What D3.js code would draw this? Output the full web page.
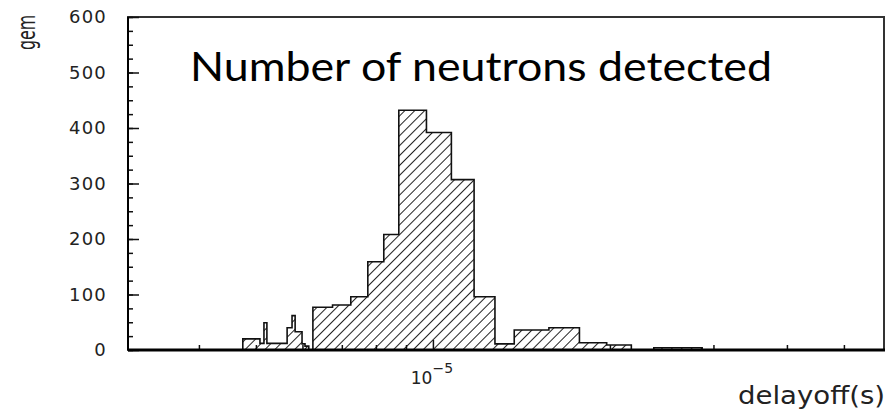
<!DOCTYPE html>
<html>
<head>
<meta charset="utf-8">
<script src="https://cdn.jsdelivr.net/npm/d3@7"></script>
<style>
  body { margin: 0; background: #fff; }
  svg { display: block; }
  .lbl { font-family: "DejaVu Sans", sans-serif; fill: #222; }
</style>
</head>
<body>
<svg id="chart"></svg>
<script>
const width = 888, height = 415

// histogram bin edges (microseconds) and counts
const binEdges = [4.75, 5.08, 5.16, 5.22, 5.65, 5.76, 5.83, 5.99, 6.06, 6.15, 6.25,
    6.75, 7.25, 7.75, 8.25, 8.75, 9.75, 10.75, 11.75, 12.75, 13.75,
    15.75, 17.75, 19.75, 21.75, 23.75, 28.7]
const binCounts = [20, 12, 49, 12, 40, 62, 33, 11, 7, 0,
    77, 81, 96, 159, 208, 432, 392, 307, 96, 11,
    36, 40, 13, 9, 0, 4]

// axes
const yMajorTicks = [0, 100, 200, 300, 400, 500, 600]
const yMinorTicks = d3.range(0, 601, 25)
const xMinorTicks = [4, 5, 6, 7, 8, 9, 20, 30, 40, 50]
const xMajorTicks = [10]
const yTitle = "gem"
const xTitle = "delayoff(s)"
const title = "Number of neutrons detected"

const frame = { left: 128, top: 17, right: 884, bottom: 350 }

const svg = d3.select("#chart")
    .attr("width", width)
    .attr("height", height)
    .attr("viewBox", `0 0 ${width} ${height}`)

const x = d3.scaleLog().domain([3.03, 58.5]).range([frame.left, frame.right])
const y = d3.scaleLinear().domain([0, 600]).range([frame.bottom, frame.top])

// hatch pattern "///", continuous across bins
svg.append("defs").append("pattern")
    .attr("id", "hatch")
    .attr("patternUnits", "userSpaceOnUse")
    .attr("width", 7).attr("height", 7)
    .attr("patternTransform", "rotate(-45)")
    .append("line")
    .attr("x1", -2).attr("x2", 9)
    .attr("y1", 0.5).attr("y2", 0.5)
    .attr("stroke", "#222")
    .attr("stroke-width", 1)

// step data: one point per edge, last repeats last count
const steps = binEdges.map((e, i) => ({ e, c: i < binCounts.length ? binCounts[i] : binCounts[binCounts.length - 1] }))
const outline = [{ e: binEdges[0], c: 0 }, ...steps, { e: binEdges[binEdges.length - 1], c: 0 }]

svg.append("path")
    .datum(steps)
    .attr("fill", "url(#hatch)")
    .attr("d", d3.area().curve(d3.curveStepAfter)
        .x(d => x(d.e)).y0(y(0)).y1(d => y(d.c)))

svg.append("path")
    .datum(outline)
    .attr("fill", "none")
    .attr("stroke", "#111")
    .attr("stroke-width", 1.6)
    .attr("d", d3.line().curve(d3.curveStepAfter)
        .x(d => x(d.e)).y(d => y(d.c)))

// frame
svg.append("rect")
    .attr("x", frame.left).attr("y", frame.top)
    .attr("width", frame.right - frame.left).attr("height", frame.bottom - frame.top)
    .attr("fill", "none")
    .attr("stroke", "#333")
    .attr("stroke-width", 2)

// y axis
const yMinor = svg.append("g")
    .attr("transform", `translate(${frame.left},0)`)
    .call(d3.axisLeft(y).tickValues(yMinorTicks).tickSize(-5).tickFormat(""))
const yMajor = svg.append("g")
    .attr("transform", `translate(${frame.left},0)`)
    .call(d3.axisLeft(y).tickValues(yMajorTicks).tickSize(-11).tickPadding(21).tickFormat(d3.format("d")))
yMajor.selectAll("text")
    .attr("class", "lbl")
    .style("font-size", "18px")
    .style("letter-spacing", "1.2px")
    .attr("font-family", null)

// x axis
const xMinor = svg.append("g")
    .attr("transform", `translate(0,${frame.bottom})`)
    .call(d3.axisBottom(x).tickValues(xMinorTicks).tickSize(-5).tickFormat(""))
const xMajor = svg.append("g")
    .attr("transform", `translate(0,${frame.bottom})`)
    .call(d3.axisBottom(x).tickValues(xMajorTicks).tickSize(-10).tickFormat(""))

for (const g of [yMinor, yMajor, xMinor, xMajor]) {
    g.select(".domain").remove()
    g.selectAll(".tick line").attr("stroke", "#111").attr("stroke-width", 1.5)
}

// heavier axis lines
svg.append("line")
    .attr("x1", frame.left).attr("x2", frame.right + 1)
    .attr("y1", frame.bottom).attr("y2", frame.bottom)
    .attr("stroke", "#000").attr("stroke-width", 3)
svg.append("line")
    .attr("x1", frame.left).attr("x2", frame.left)
    .attr("y1", frame.top).attr("y2", frame.bottom)
    .attr("stroke", "#000").attr("stroke-width", 2)

// 10^-5 label
const xl = svg.append("text")
    .attr("class", "lbl")
    .attr("x", x(10) - 1)
    .attr("y", frame.bottom + 34)
    .attr("text-anchor", "middle")
    .style("font-size", "17px")
xl.append("tspan").text("10")
xl.append("tspan").attr("dy", -11).style("font-size", "14px").text("\u22125")

// titles
svg.append("text")
    .attr("class", "lbl")
    .attr("transform", "translate(35,50) rotate(-90) scale(0.66,1)")
    .attr("text-anchor", "start")
    .style("font-size", "24px")
    .text(yTitle)

svg.append("text")
    .attr("class", "lbl")
    .attr("x", frame.right + 1)
    .attr("y", 404)
    .attr("text-anchor", "end")
    .attr("textLength", 147)
    .attr("lengthAdjust", "spacingAndGlyphs")
    .style("font-size", "24px")
    .text(xTitle)

svg.append("text")
    .attr("x", 190)
    .attr("y", 81)
    .attr("textLength", 582)
    .attr("lengthAdjust", "spacingAndGlyphs")
    .style("font-family", "Lato, sans-serif")
    .style("font-size", "41px")
    .style("fill", "#000")
    .text(title)
</script>
</body>
</html>
